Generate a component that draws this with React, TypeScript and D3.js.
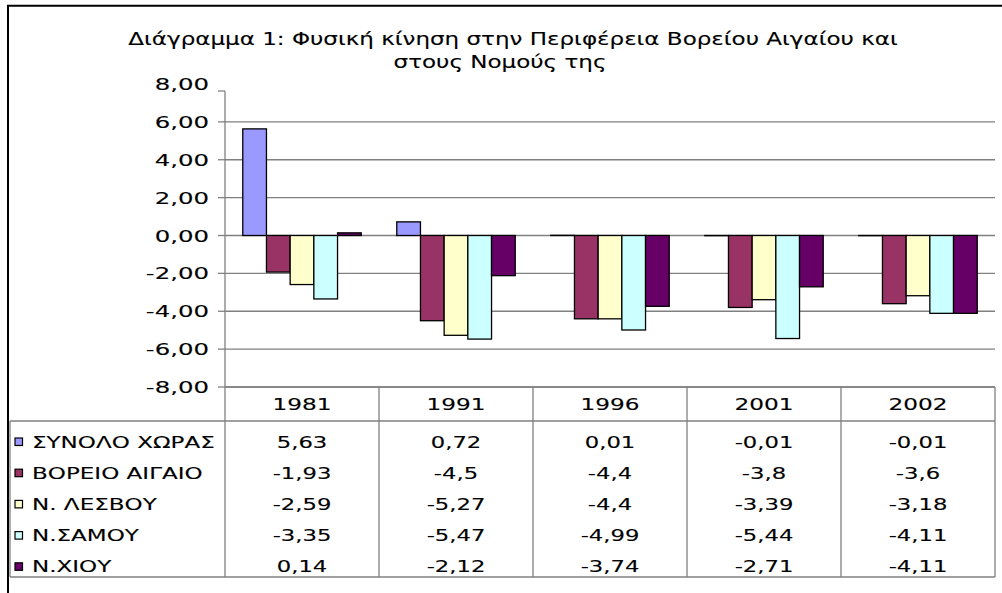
import React from 'react';
import * as d3 from 'd3';

const categories = ['1981', '1991', '1996', '2001', '2002'];
const seriesNames = ['ΣΥΝΟΛΟ ΧΩΡΑΣ', 'ΒΟΡΕΙΟ ΑΙΓΑΙΟ', 'Ν. ΛΕΣΒΟΥ', 'Ν.ΣΑΜΟΥ', 'Ν.ΧΙΟΥ'];
const synoloXoras = [5.63, 0.72, 0.01, -0.01, -0.01];
const voreioAigaio = [-1.93, -4.5, -4.4, -3.8, -3.6];
const nLesvou = [-2.59, -5.27, -4.4, -3.39, -3.18];
const nSamou = [-3.35, -5.47, -4.99, -5.44, -4.11];
const nChiou = [0.14, -2.12, -3.74, -2.71, -4.11];
const yTicks = [8, 6, 4, 2, 0, -2, -4, -6, -8];
const colors = ['#9999FF', '#993366', '#FFFFCC', '#CCFFFF', '#660066'];
const titleLines = [
  'Διάγραμμα 1: Φυσική κίνηση στην Περιφέρεια Βορείου Αιγαίου και',
  'στους Νομούς της',
];

const seriesValues = [synoloXoras, voreioAigaio, nLesvou, nSamou, nChiou];

const W = 1002;
const H = 593;
const plotLeft = 225;
const plotRight = 995;
const yTopVal = 84;
const yBotVal = 387;
const axisTop = 91;
const headerBottom = 421;
const rowH = 31.2;
const tableLeft = 10;
const FONT = 'DejaVu Sans, Verdana, sans-serif';
const gridColor = '#808080';

const fmt = (v: number) => String(v).replace('.', ',');
const fmtTick = (v: number) => v.toFixed(2).replace('.', ',');

function SText({ x, y, anchor = 'start', size = 16, sx = 1.3, children }: any) {
  return (
    <text
      transform={`translate(${x},${y}) scale(${sx},1)`}
      textAnchor={anchor}
      fontSize={size}
      fontFamily={FONT}
      fill="#000"
      stroke="#000"
      strokeWidth={0.12}
    >
      {children}
    </text>
  );
}

export default function App() {
  const x = d3.scaleBand<string>().domain(categories).range([plotLeft, plotRight]).padding(0);
  const bw = x.bandwidth();
  const barW = bw / 6.5;
  const inner = d3
    .scaleBand<string>()
    .domain(seriesNames)
    .range([barW * 0.75, bw - barW * 0.75])
    .padding(0);
  const y = d3.scaleLinear().domain([-8, 8]).range([yBotVal, yTopVal]);
  const tableBottom = headerBottom + rowH * seriesNames.length;

  return (
    <svg
      width={W}
      height={H}
      style={{ position: 'absolute', left: 0, top: 0, background: '#fff' }}
    >
      <rect x={0} y={0} width={W} height={H} fill="#fff" />
      {/* frame */}
      <path d={`M8,${H} L8,5.75 L${W},5.75`} fill="none" stroke="#000" strokeWidth={2} />

      {/* title */}
      <SText x={513} y={45} anchor="middle" size={18} sx={1.28}>
        {titleLines[0]}
      </SText>
      <SText x={500} y={68} anchor="middle" size={18} sx={1.28}>
        {titleLines[1]}
      </SText>

      {/* gridlines */}
      {yTicks
        .filter((v) => y(v) > axisTop)
        .map((v) => (
          <line
            key={v}
            x1={plotLeft}
            x2={plotRight}
            y1={y(v)}
            y2={y(v)}
            stroke={gridColor}
            strokeWidth={1.3}
          />
        ))}

      {/* y axis */}
      <line x1={plotLeft} x2={plotLeft} y1={axisTop} y2={tableBottom} stroke={gridColor} strokeWidth={1.3} />
      {yTicks.map((v) => (
        <g key={v}>
          <line
            x1={plotLeft - 7}
            x2={plotLeft}
            y1={Math.max(y(v), axisTop)}
            y2={Math.max(y(v), axisTop)}
            stroke={gridColor}
            strokeWidth={1.3}
          />
          <SText x={209} y={y(v) + 6} anchor="end" size={16.5} sx={1.48}>
            {fmtTick(v)}
          </SText>
        </g>
      ))}

      {/* bars */}
      {seriesValues.map((vals, si) =>
        vals.map((v, ci) => {
          const x0 = (x(categories[ci]) as number) + (inner(seriesNames[si]) as number);
          const y0 = Math.min(y(v), y(0));
          const h = Math.abs(y(v) - y(0));
          return (
            <rect
              key={`${si}-${ci}`}
              x={x0}
              y={y0}
              width={inner.bandwidth()}
              height={h}
              fill={colors[si]}
              stroke="#000"
              strokeWidth={1.3}
            />
          );
        })
      )}

      {/* data table */}
      <line x1={plotLeft} x2={plotRight} y1={yBotVal} y2={yBotVal} stroke={gridColor} strokeWidth={1.3} />
      <line x1={tableLeft} x2={plotRight} y1={headerBottom} y2={headerBottom} stroke={gridColor} strokeWidth={1.3} />
      <line x1={tableLeft} x2={plotRight} y1={tableBottom} y2={tableBottom} stroke={gridColor} strokeWidth={1.3} />
      <line x1={tableLeft} x2={tableLeft} y1={headerBottom} y2={tableBottom} stroke={gridColor} strokeWidth={1.3} />
      {categories.map((c) => (
        <line
          key={c}
          x1={(x(c) as number) + bw}
          x2={(x(c) as number) + bw}
          y1={yBotVal}
          y2={tableBottom}
          stroke={gridColor}
          strokeWidth={1.3}
        />
      ))}
      {categories.map((c) => (
        <SText key={c} x={(x(c) as number) + bw / 2} y={410} anchor="middle" size={16} sx={1.45}>
          {c}
        </SText>
      ))}
      {seriesNames.map((s, si) => {
        const top = headerBottom + si * rowH;
        return (
          <g key={s}>
            <rect x={15} y={top + 17} width={7.5} height={7.5} fill={colors[si]} stroke="#000" strokeWidth={1.2} />
            <SText x={32} y={top + 26.5} size={16} sx={1.44}>
              {s}
            </SText>
            {seriesValues[si].map((v, ci) => (
              <SText
                key={ci}
                x={(x(categories[ci]) as number) + bw / 2}
                y={top + 26.5}
                anchor="middle"
                size={16}
                sx={1.42}
              >
                {fmt(v)}
              </SText>
            ))}
          </g>
        );
      })}
    </svg>
  );
}
